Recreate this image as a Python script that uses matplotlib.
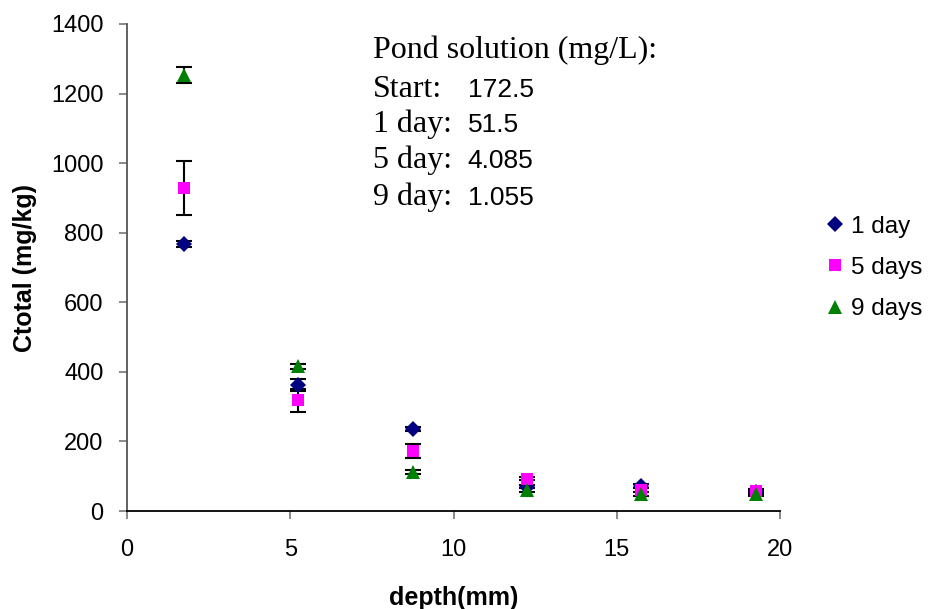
import matplotlib
matplotlib.use("Agg")
import matplotlib.pyplot as plt

depth = [1.75, 5.25, 8.75, 12.25, 15.75, 19.25]
day1 = [768, 362, 236, 70, 72, 55]
day1_err = [8, 18, 5, 5, 5, 5]
day5 = [928, 318, 173, 93, 60, 58]
day5_err = [78, 32, 20, 5, 5, 5]
day9 = [1253, 416, 112, 60, 49, 49]
day9_err = [22, 8, 5, 5, 5, 5]
series_labels = ["1 day", "5 days", "9 days"]
pond_rows = [("Pond solution (mg/L):", ""), ("Start:", "172.5"), ("1 day:", "51.5"),
             ("5 day:", "4.085"), ("9 day:", "1.055")]

plt.rcParams['font.family'] = ['Liberation Sans', 'DejaVu Sans']

fig = plt.figure(figsize=(9.33, 6.09), dpi=100)
ax = fig.add_axes([127/933, 98/609, 653/933, 487/609])

series = [(day1, day1_err, 'D', '#000080', 8.5),
          (day5, day5_err, 's', '#FF00FF', 9),
          (day9, day9_err, '^', '#008000', 10.5)]
handles = []
for (vals, err, mk, col, ms), lab in zip(series, series_labels):
    ax.errorbar(depth, vals, yerr=err, fmt='none', ecolor='black', elinewidth=1.5,
                capsize=6, capthick=1.5, zorder=2)
    h, = ax.plot(depth, vals, linestyle='none', marker=mk, color=col, markersize=ms,
                 markeredgewidth=0, zorder=3, label=lab)
    handles.append(h)

ax.set_xlim(0, 20)
ax.set_ylim(0, 1400)
ax.set_xticks([0, 5, 10, 15, 20])
ax.set_yticks(range(0, 1401, 200))
ax.spines['top'].set_visible(False)
ax.spines['right'].set_visible(False)
ax.spines['left'].set_color('#555555')
ax.spines['bottom'].set_color('black')
ax.spines['left'].set_linewidth(1.3)
ax.spines['bottom'].set_linewidth(1.3)
ax.tick_params(axis='both', direction='out', length=6, width=1.3, color='#808080',
               labelsize=17)
ax.tick_params(axis='x', pad=14)
ax.tick_params(axis='y', pad=11)

ax.set_xlabel("depth(mm)", fontsize=18, fontweight='bold', labelpad=18)
ax.set_ylabel("Ctotal (mg/kg)", fontsize=18, fontweight='bold', labelpad=10)

ys = [0.930, 0.850, 0.778, 0.704, 0.628]
for (lab, num), y in zip(pond_rows, ys):
    ax.text(0.377, y, lab, transform=ax.transAxes, fontsize=23,
            family=['Liberation Serif', 'DejaVu Serif'], va='baseline', ha='left')
    if num:
        ax.text(0.522, y, num, transform=ax.transAxes, fontsize=19,
                va='baseline', ha='left')

fig.legend(handles=handles, labels=series_labels, loc='center left',
           bbox_to_anchor=(817/933, 1 - 268/609), frameon=False, fontsize=17.5,
           handlelength=0.7, handletextpad=0.3, labelspacing=0.8, borderaxespad=0)

fig.savefig("out.png", dpi=100)
